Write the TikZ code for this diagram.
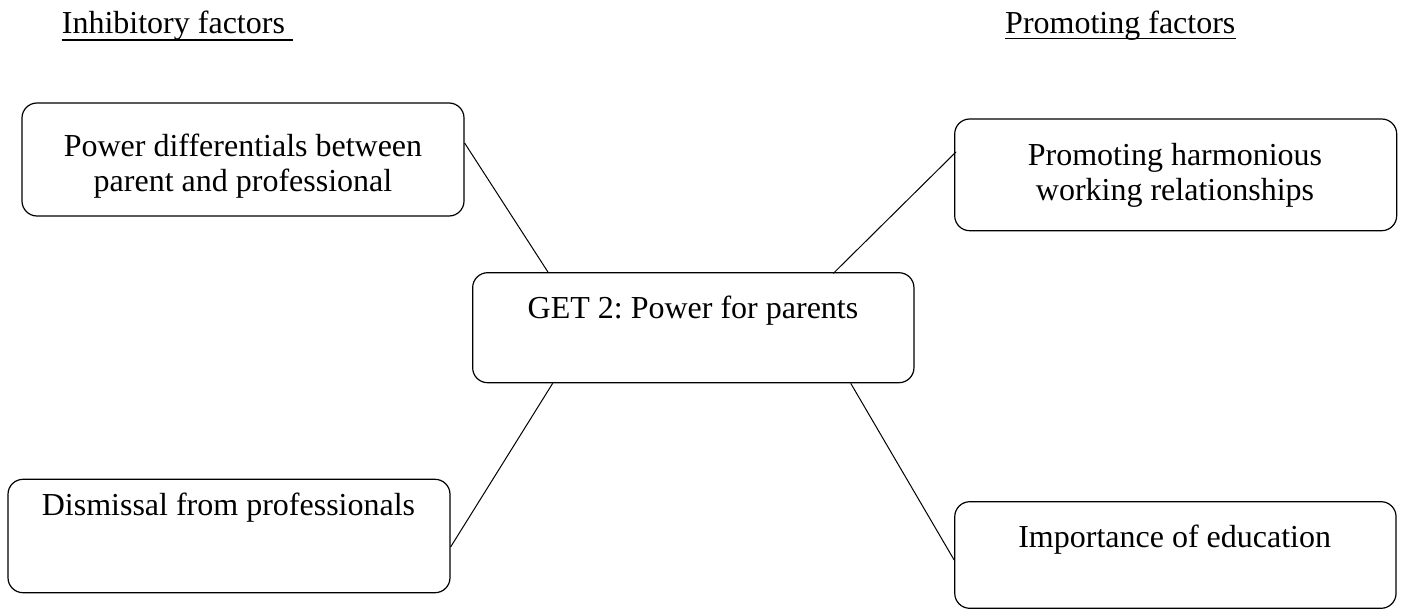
\documentclass[tikz,border=0pt]{standalone}
\usepackage{fontspec}
\setmainfont{Liberation Serif}
\frenchspacing
\begin{document}
\begin{tikzpicture}[x=1pt,y=-1pt,
  box/.style={draw, line width=1.2pt, rounded corners=15pt, inner sep=0pt},
  lbl/.style={inner sep=0pt, align=center, font=\fontsize{32}{35}\selectfont},
  hdr/.style={inner sep=0pt, font=\fontsize{32}{35}\selectfont},
  link/.style={line width=1pt},
  uline/.style={line width=1.6pt}]
\useasboundingbox (0,0) rectangle (1405,610);

% headings
\node[hdr, anchor=base west] (inh) at (61.7,33.3) {Inhibitory factors};
\node[hdr, anchor=base west] (pro) at (1005,33.3) {Promoting factors};
\draw[uline] ([yshift=-6.5pt]inh.base west) -- ([yshift=-6.5pt,xshift=8pt]inh.base east);
\draw[uline] ([yshift=-5.2pt]pro.base west) -- ([yshift=-5.2pt]pro.base east);

% boxes
\node[box, minimum width=442pt, minimum height=113pt] (pd) at (243,159.5) {};
\node[box, minimum width=441.3pt, minimum height=110pt] (get) at (693.3,327.7) {};
\node[box, minimum width=442pt, minimum height=111.7pt] (ph) at (1175.7,174.85) {};
\node[box, minimum width=442pt, minimum height=113.4pt] (dis) at (229,536) {};
\node[box, minimum width=441.3pt, minimum height=106.6pt] (imp) at (1175.4,555) {};

% box texts (base anchor sits on the last line)
\node[lbl, anchor=base] (pdt) at (243,191.7) {Power differentials between\\parent and professional};
\node[lbl, anchor=base] (gett) at (693,318.3) {GET 2: Power for parents};
\node[lbl, anchor=base] (pht) at (1175,200) {Promoting harmonious\\working relationships};
\node[lbl, anchor=base] (dist) at (228.5,515) {Dismissal from professionals};
\node[lbl, anchor=base] (impt) at (1174.7,547.3) {Importance of education};

% connectors
\draw[link] ([yshift=16.5pt]pd.east) -- ([xshift=-145.3pt]get.north);
\draw[link] ([yshift=23pt,xshift=2pt]ph.west) -- ([xshift=140pt,yshift=-1.3pt]get.north);
\draw[link] ([xshift=-140.6pt]get.south) -- ([yshift=-11pt]dis.east);
\draw[link] ([xshift=157.4pt]get.south) -- ([yshift=-5pt]imp.west);
\end{tikzpicture}
\end{document}
